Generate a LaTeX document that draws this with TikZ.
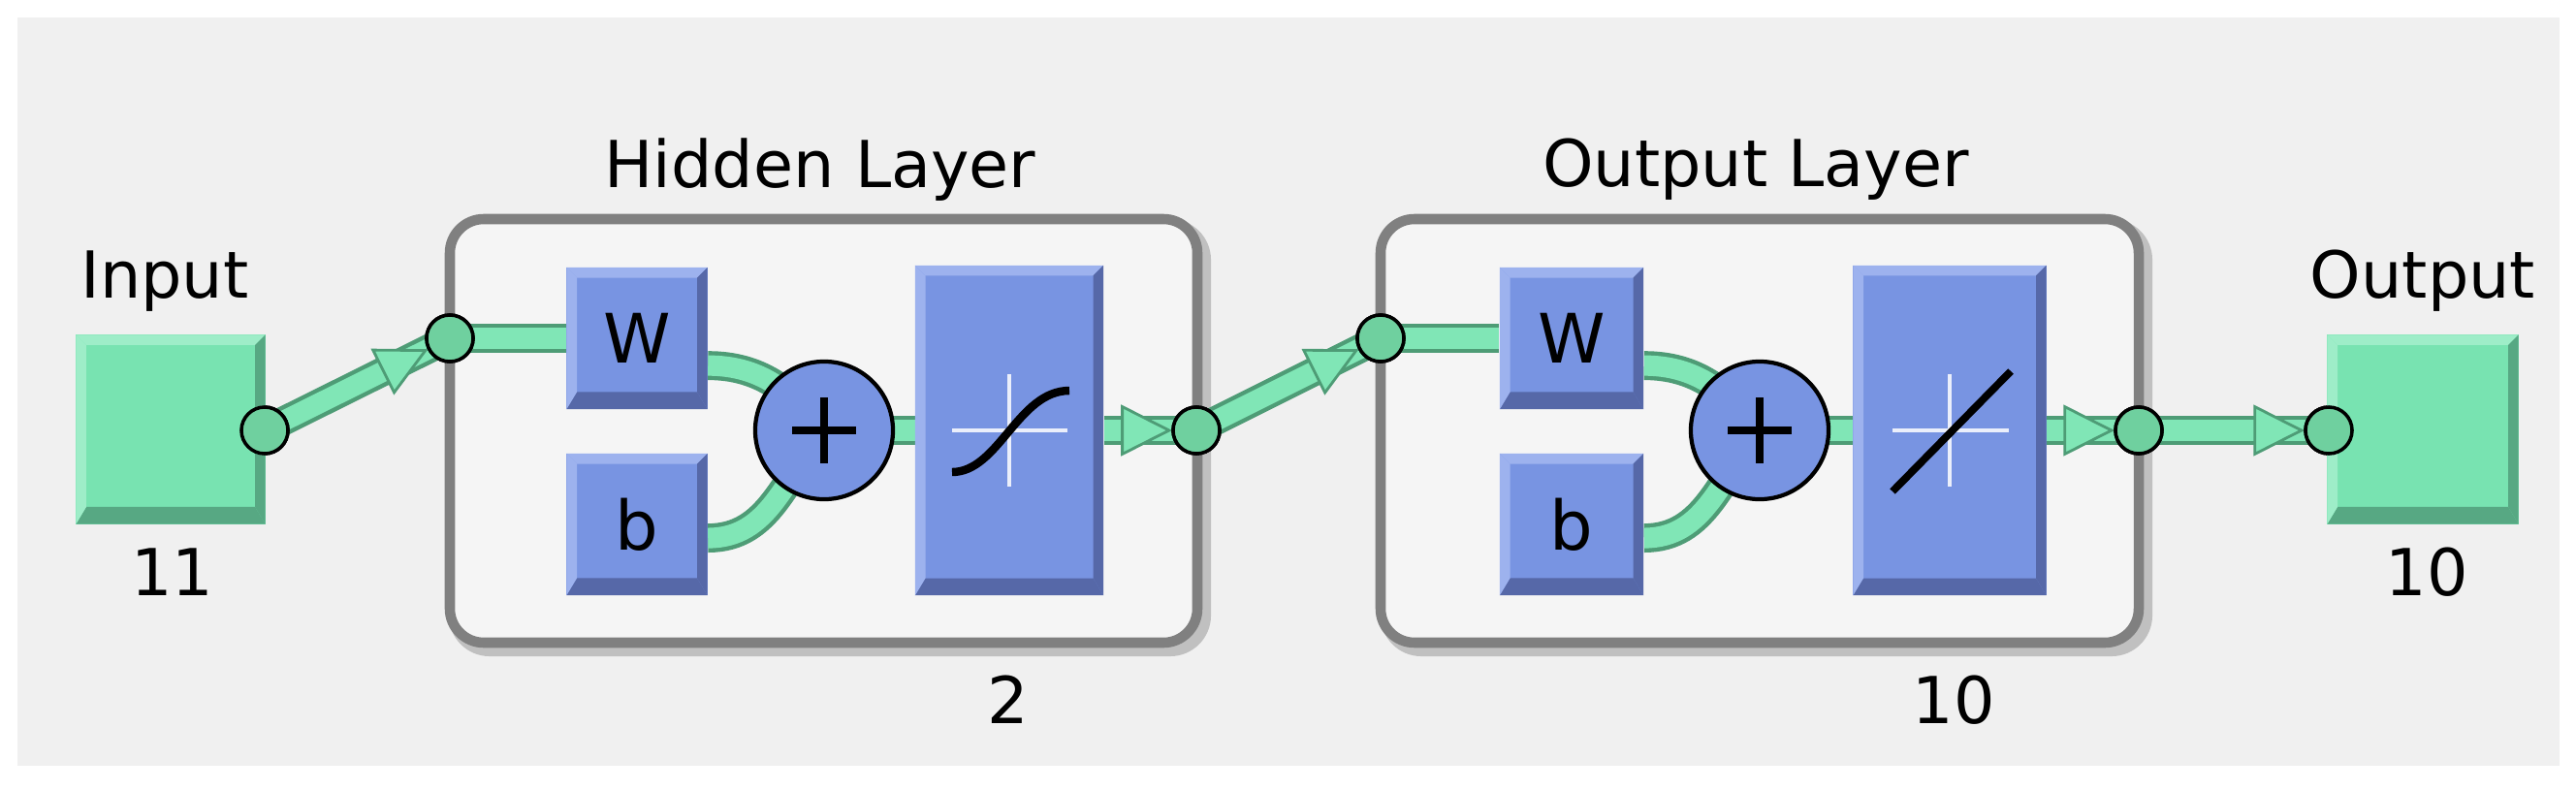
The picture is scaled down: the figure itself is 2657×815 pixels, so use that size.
\documentclass[tikz,border=0pt]{standalone}
\usepackage{fontspec}
\setmainfont{DejaVu Sans}
\usetikzlibrary{arrows.meta,calc}
\definecolor{bgc}{HTML}{F0F0F0}
\definecolor{layc}{HTML}{F5F5F5}
\definecolor{layd}{HTML}{808080}
\definecolor{bl}{HTML}{7894E2}
\definecolor{bll}{HTML}{9DB2EE}
\definecolor{bld}{HTML}{5668A8}
\definecolor{gr}{HTML}{78E3B1}
\definecolor{grl}{HTML}{9EEDC8}
\definecolor{grd}{HTML}{57A883}
\definecolor{cdk}{HTML}{4E9C76}
\definecolor{clt}{HTML}{80E6B6}
\definecolor{circ}{HTML}{6FD09F}
\pgfdeclarelayer{back}\pgfsetlayers{back,main}
\tikzset{
  bev/.style n args={3}{rectangle, inner sep=0pt, minimum width=#1, minimum height=#2, fill=#3, font=\fontsize{20}{24}\selectfont},
  bevel/.style 2 args={path picture={
      \fill[#1] (path picture bounding box.north west) -- (path picture bounding box.north east) -- ([shift={(-3pt,-3pt)}]path picture bounding box.north east) -- ([shift={(3pt,-3pt)}]path picture bounding box.north west) -- cycle;
      \fill[#2] (path picture bounding box.south west) -- (path picture bounding box.south east) -- ([shift={(-3pt,5pt)}]path picture bounding box.south east) -- ([shift={(3pt,5pt)}]path picture bounding box.south west) -- cycle;
      \fill[#2] (path picture bounding box.north east) -- (path picture bounding box.south east) -- ([shift={(-3pt,5pt)}]path picture bounding box.south east) -- ([shift={(-3pt,-3pt)}]path picture bounding box.north east) -- cycle;
      \fill[#1] (path picture bounding box.north west) -- (path picture bounding box.south west) -- ([shift={(3pt,5pt)}]path picture bounding box.south west) -- ([shift={(3pt,-3pt)}]path picture bounding box.north west) -- cycle;
    }},
  bevblue/.style={bevel={bll}{bld}},
  bevgreen/.style={bevel={grl}{grd}},
  layer/.style={draw=layd, line width=3pt, fill=layc, rounded corners=0.35cm},
  conn/.style={draw=cdk, line width=8.5pt, postaction={draw=clt, line width=6pt}},
  tip/.style={draw=clt, line width=0.1pt, shorten >=0.25cm, -{Triangle[length=15pt,width=15pt,line width=0.8pt,fill=clt,color=cdk]}},
  dot/.style={circle, draw=black, line width=1pt, fill=circ, minimum size=0.48cm, inner sep=0pt},
  plus/.style={circle, draw=black, line width=1.2pt, fill=bl, minimum size=1.42cm, inner sep=0pt},
  lbl/.style={font=\fontsize{19}{22}\selectfont},
}
\begin{document}
\begin{tikzpicture}[x=0.01cm,y=-0.01cm]
\useasboundingbox (0,0) rectangle (2657,815);

% dots
\node[dot] (inC) at (273,444) {};
\node[dot] (h1) at (464,349) {};
\node[dot] (h2) at (1234,444) {};
\node[dot] (o1) at (1424,349) {};
\node[dot] (o2) at (2206,444) {};
\node[dot] (outC) at (2402,444) {};

% boxes
\node[bev={1.95cm}{1.95cm}{gr}, bevgreen] (inp) at (176,443) {};
\node[bev={1.97cm}{1.95cm}{gr}, bevgreen] (outp) at (2499,443) {};
\node[bev={1.45cm}{1.46cm}{bl}, bevblue] (W1) at (657,349) {W};
\node[bev={1.45cm}{1.46cm}{bl}, bevblue] (b1) at (657,541) {b};
\node[bev={1.94cm}{3.4cm}{bl}, bevblue] (f1) at (1041,444) {};
\node[bev={1.48cm}{1.46cm}{bl}, bevblue] (W2) at (1621,349) {W};
\node[bev={1.48cm}{1.46cm}{bl}, bevblue] (b2) at (1621,541) {b};
\node[bev={1.99cm}{3.4cm}{bl}, bevblue] (f2) at (2011,444) {};
\node[plus] (p1) at (850,444) {};
\node[plus] (p2) at (1815,444) {};

\begin{pgfonlayer}{back}
\fill[white] (0,0) rectangle (2657,815);
\fill[bgc] (18,18) rectangle (2640,790);
\draw[layd!50, line width=4pt, rounded corners=0.35cm] (470,233) rectangle (1242,670);
\draw[layer] (464,226) rectangle (1235,663);
\draw[layd!50, line width=4pt, rounded corners=0.35cm] (1431,233) rectangle (2213,670);
\draw[layer] (1424,226) rectangle (2206,663);
\draw[conn] (inC.center) -- (h1.center);
\draw[conn] (h1.center) -- (W1.west);
\draw[conn] ([yshift=-8pt]W1.east) to[out=0,in=130] (p1.center);
\draw[conn] ([yshift=-4pt]b1.east) to[out=0,in=-130] (p1.center);
\draw[conn] (p1.center) -- (f1.center);
\draw[conn] (f1.east) -- (h2.center);
\draw[conn] (h2.center) -- (o1.center);
\draw[conn] (o1.center) -- (W2.west);
\draw[conn] ([yshift=-8pt]W2.east) to[out=0,in=130] (p2.center);
\draw[conn] ([yshift=-4pt]b2.east) to[out=0,in=-130] (p2.center);
\draw[conn] (p2.center) -- (f2.center);
\draw[conn] (f2.east) -- (o2.center);
\draw[conn] (o2.center) -- (outC.center);
\end{pgfonlayer}

\draw[black, line width=2.2pt] (817,444) -- (883,444) (850,410) -- (850,478);
\draw[black, line width=2.2pt] (1782,444) -- (1848,444) (1815,410) -- (1815,478);

% arrow tips
\draw[tip] (inC.center) -- (h1.center);
\draw[tip] (f1.east) -- (h2.center);
\draw[tip] (h2.center) -- (o1.center);
\draw[tip] (f2.east) -- (o2.center);
\draw[tip] (o2.center) -- (outC.center);

\node[dot] at (inC) {};
\node[dot] at (h1) {};
\node[dot] at (h2) {};
\node[dot] at (o1) {};
\node[dot] at (o2) {};
\node[dot] at (outC) {};

% transfer symbols
\draw[white!85!bl, line width=1.2pt] (982,444) -- (1101,444) (1041,386) -- (1041,502);
\draw[black, line width=2.4pt] (982,487) .. controls (1030,487) and (1050,403) .. (1103,403);
\draw[white!85!bl, line width=1.2pt] (1952,444) -- (2072,444) (2011,386) -- (2011,502);
\draw[black, line width=2.2pt] (1952,507) -- (2074,383);

% labels
\node[lbl] (tIn) at (170,290) {Input};
\node[lbl] (t11) at (178,590) {11};
\node[lbl] (tH) at (846,175) {Hidden Layer};
\node[lbl] (t2) at (1040,722) {2};
\node[lbl] (tO) at (1811,175) {Output Layer};
\node[lbl] (t10a) at (2015,722) {10};
\node[lbl] (tOut) at (2499,290) {Output};
\node[lbl] (t10b) at (2503,590) {10};
\end{tikzpicture}
\end{document}
